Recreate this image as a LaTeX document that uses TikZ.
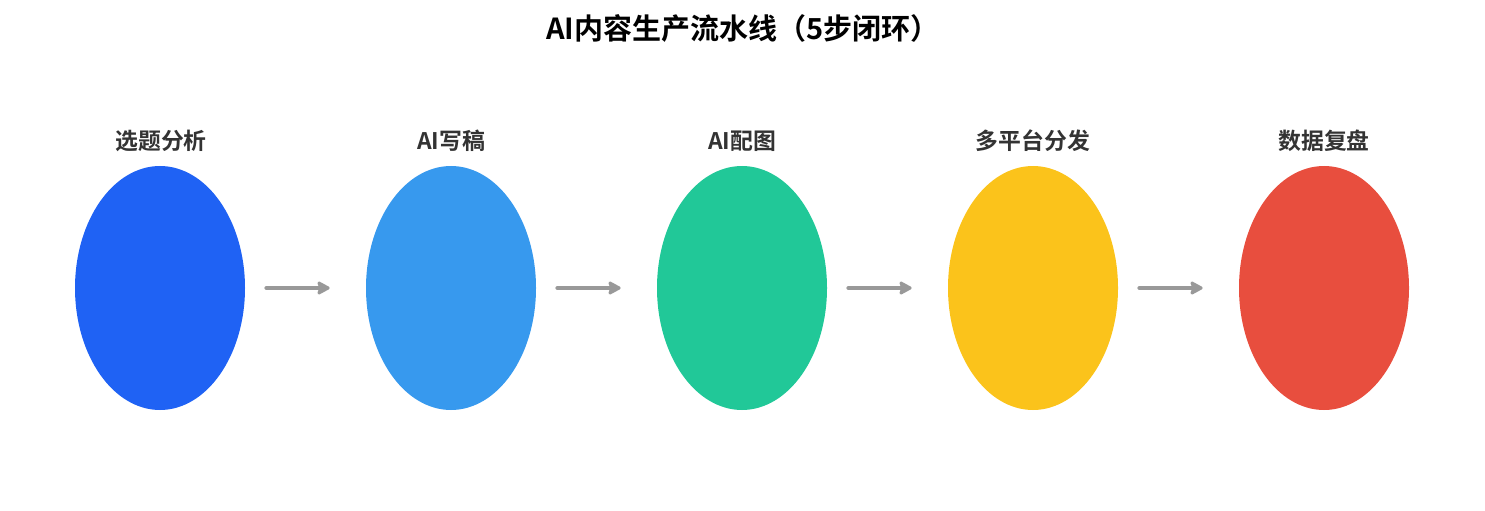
\documentclass[tikz,border=0pt]{standalone}
\usepackage{fontspec}
\setmainfont{Noto Sans CJK SC}[BoldFont={* Bold}]
\usetikzlibrary{shapes.geometric,arrows.meta}

\definecolor{stepblue}{HTML}{1F62F4}
\definecolor{stepsky}{HTML}{3799EE}
\definecolor{stepgreen}{HTML}{21C898}
\definecolor{stepyellow}{HTML}{FBC31B}
\definecolor{stepred}{HTML}{E84E3E}
\definecolor{flowgray}{HTML}{999999}
\definecolor{labelgray}{HTML}{333333}

\tikzset{
  stage/.style={ellipse, draw=none, minimum width=3.4cm, minimum height=4.88cm, inner sep=0pt},
  stagelabel/.style={font=\fontsize{13}{15}\selectfont\bfseries, text=labelgray},
  flow/.style={-{Stealth[length=0.3cm,width=0.32cm,inset=0.06cm,round]}, line width=0.08cm, flowgray, line cap=round,
    shorten <=0.42cm, shorten >=0.72cm}
}

\begin{document}
\begin{tikzpicture}
  \useasboundingbox (0,0) rectangle (29.7,-10.22);

  % title
  \node[font=\fontsize{16.5}{19}\selectfont\bfseries] (title) at (14.86,-0.56) {AI内容生产流水线（5步闭环）};

  % stages
  \node[stage, fill=stepblue]   (s1) at (3.2,-5.76)   {};
  \node[stage, fill=stepsky]    (s2) at (9.02,-5.76)  {};
  \node[stage, fill=stepgreen]  (s3) at (14.84,-5.76) {};
  \node[stage, fill=stepyellow] (s4) at (20.66,-5.76) {};
  \node[stage, fill=stepred]    (s5) at (26.48,-5.76) {};

  % stage labels
  \node[stagelabel] (l1) at (3.22,-2.82)  {选题分析};
  \node[stagelabel] (l2) at (9.02,-2.82)  {AI写稿};
  \node[stagelabel] (l3) at (14.84,-2.82) {AI配图};
  \node[stagelabel] (l4) at (20.66,-2.82) {多平台分发};
  \node[stagelabel] (l5) at (26.48,-2.82) {数据复盘};

  % flow arrows
  \draw[flow] (s1) -- (s2);
  \draw[flow] (s2) -- (s3);
  \draw[flow] (s3) -- (s4);
  \draw[flow] (s4) -- (s5);
\end{tikzpicture}
\end{document}
